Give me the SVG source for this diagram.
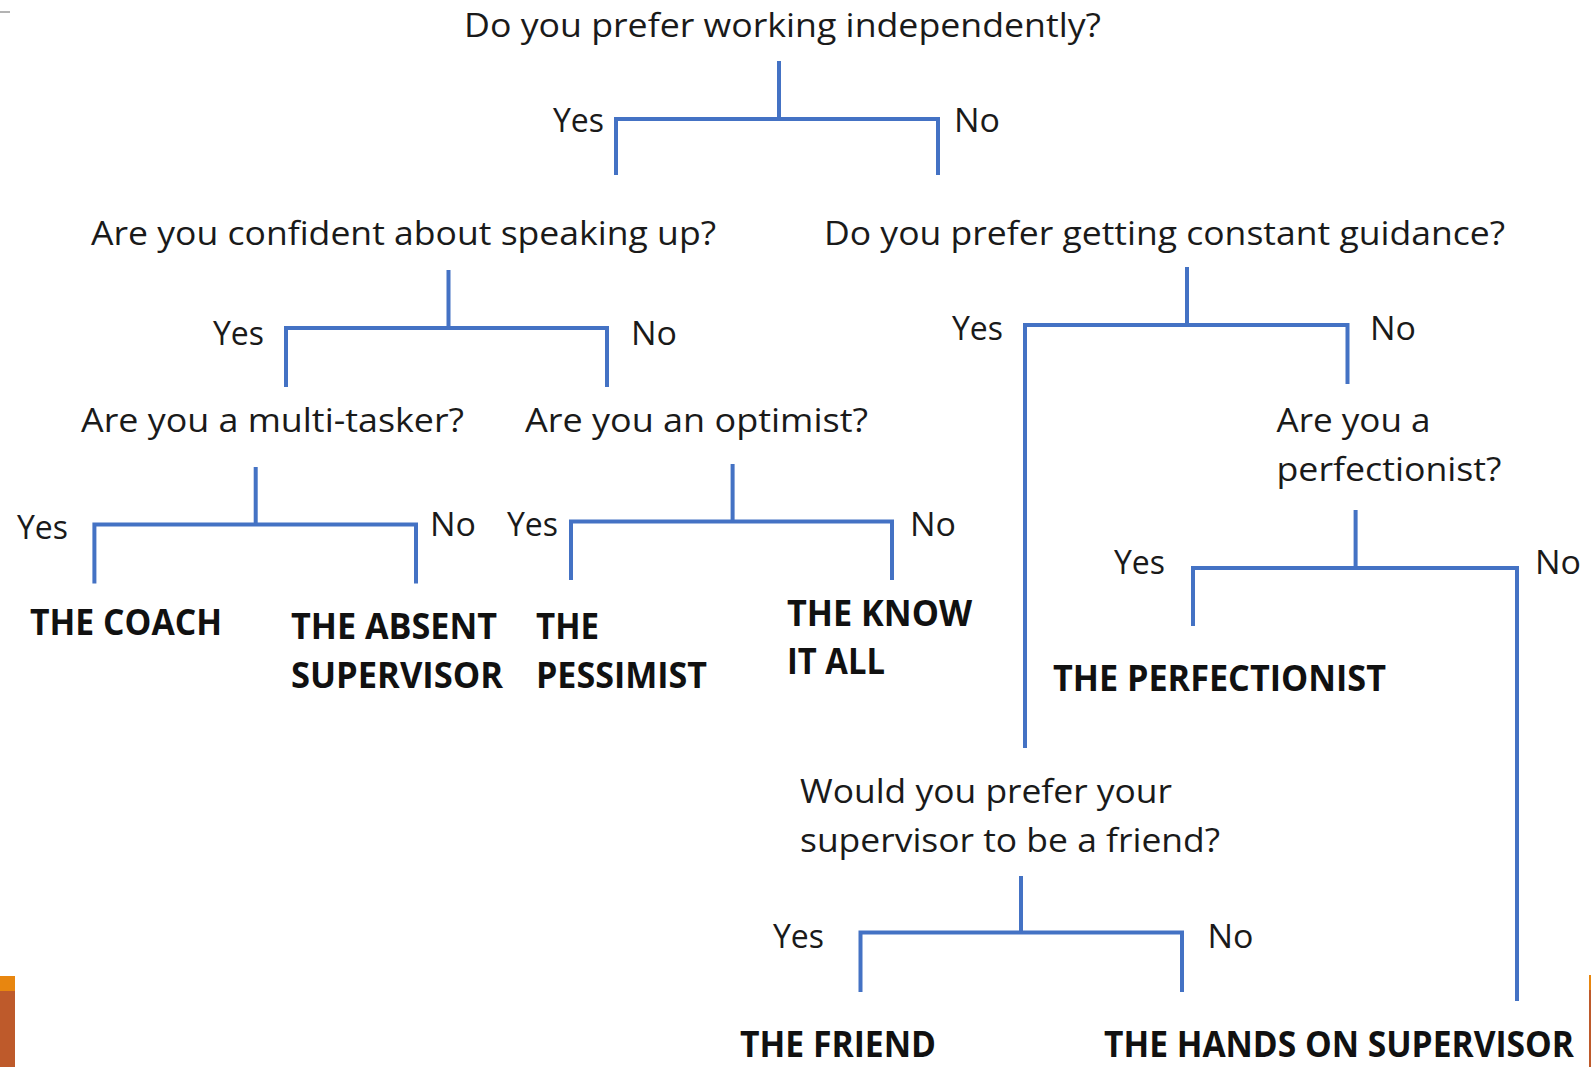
<svg xmlns="http://www.w3.org/2000/svg" width="1591" height="1067" viewBox="0 0 1591 1067">
<style>
  .q { font-family: "Open Sans", "Noto Sans", sans-serif; font-size: 33px; fill: #1a1a1a; }
  .a { font-family: "Open Sans", "Noto Sans", sans-serif; font-size: 35px; font-weight: bold; fill: #111; }
  .lbl { font-family: "Open Sans", "Noto Sans", sans-serif; font-size: 33px; fill: #1a1a1a; }
  .c { fill: none; stroke: #4472C4; stroke-width: 4; stroke-linejoin: miter; stroke-linecap: butt; }
</style>
<rect x="0" y="0" width="1591" height="1067" fill="#ffffff"/>
<line x1="0" y1="12" x2="10" y2="12" stroke="#9a9a9a" stroke-width="1.5"/>
<rect x="0" y="976" width="15" height="15" fill="#E8860F"/>
<rect x="0" y="991" width="15" height="76" fill="#BE5A2B"/>
<rect x="1589" y="975" width="2" height="15" fill="#E8860F"/>
<rect x="1589" y="990" width="2" height="77" fill="#BE5A2B"/>

<g id="connectors">
  <path class="c" d="M779 61 V119 M616 175 V119 H938 V175"/>
  <path class="c" d="M448.5 270 V328 M286 387 V328 H607 V387"/>
  <path class="c" d="M1187 267 V325 M1025 748 V325 H1347.5 V384"/>
  <path class="c" d="M255.7 467 V524.6 M94.4 583.5 V524.6 H416 V583.5"/>
  <path class="c" d="M732.6 464 V521.6 M571 580 V521.6 H892 V580"/>
  <path class="c" d="M1355.6 510 V568 M1193 626 V568 H1517 V1001"/>
  <path class="c" d="M1021 876 V932.5 M860.5 992 V932.5 H1182 V992"/>
  <g id="edge-labels">
    <text class="lbl" x="553" y="132" textLength="51" lengthAdjust="spacingAndGlyphs">Yes</text>
    <text class="lbl" x="954" y="132" textLength="46" lengthAdjust="spacingAndGlyphs">No</text>
    <text class="lbl" x="213" y="345" textLength="51" lengthAdjust="spacingAndGlyphs">Yes</text>
    <text class="lbl" x="631" y="345" textLength="46" lengthAdjust="spacingAndGlyphs">No</text>
    <text class="lbl" x="952" y="340" textLength="51" lengthAdjust="spacingAndGlyphs">Yes</text>
    <text class="lbl" x="1370" y="340" textLength="46" lengthAdjust="spacingAndGlyphs">No</text>
    <text class="lbl" x="17" y="539" textLength="51" lengthAdjust="spacingAndGlyphs">Yes</text>
    <text class="lbl" x="430" y="536" textLength="46" lengthAdjust="spacingAndGlyphs">No</text>
    <text class="lbl" x="507" y="536" textLength="51" lengthAdjust="spacingAndGlyphs">Yes</text>
    <text class="lbl" x="910" y="536" textLength="46" lengthAdjust="spacingAndGlyphs">No</text>
    <text class="lbl" x="1114" y="574" textLength="51" lengthAdjust="spacingAndGlyphs">Yes</text>
    <text class="lbl" x="1535" y="574" textLength="46" lengthAdjust="spacingAndGlyphs">No</text>
    <text class="lbl" x="773" y="948" textLength="51" lengthAdjust="spacingAndGlyphs">Yes</text>
    <text class="lbl" x="1207.5" y="948" textLength="46" lengthAdjust="spacingAndGlyphs">No</text>
  </g>
</g>

<g id="q-independent">
  <text class="q" x="464" y="37" textLength="637" lengthAdjust="spacingAndGlyphs">Do you prefer working independently?</text>
</g>
<g id="q-confident">
  <text class="q" x="91" y="245" textLength="625" lengthAdjust="spacingAndGlyphs">Are you confident about speaking up?</text>
</g>
<g id="q-guidance">
  <text class="q" x="824" y="245" textLength="681" lengthAdjust="spacingAndGlyphs">Do you prefer getting constant guidance?</text>
</g>
<g id="q-multitasker">
  <text class="q" x="81" y="432" textLength="383" lengthAdjust="spacingAndGlyphs">Are you a multi-tasker?</text>
</g>
<g id="q-optimist">
  <text class="q" x="525" y="432" textLength="343" lengthAdjust="spacingAndGlyphs">Are you an optimist?</text>
</g>
<g id="q-perfectionist">
  <text class="q" x="1276.5" y="432" textLength="154" lengthAdjust="spacingAndGlyphs">Are you a</text>
  <text class="q" x="1276.5" y="481" textLength="225" lengthAdjust="spacingAndGlyphs">perfectionist?</text>
</g>
<g id="q-friend">
  <text class="q" x="800" y="803" textLength="372" lengthAdjust="spacingAndGlyphs">Would you prefer your</text>
  <text class="q" x="800" y="852" textLength="420" lengthAdjust="spacingAndGlyphs">supervisor to be a friend?</text>
</g>

<g id="a-coach">
  <text class="a" x="30" y="635" textLength="192" lengthAdjust="spacingAndGlyphs">THE COACH</text>
</g>
<g id="a-absent">
  <text class="a" x="291" y="638.5" textLength="206" lengthAdjust="spacingAndGlyphs">THE ABSENT</text>
  <text class="a" x="291" y="688" textLength="212" lengthAdjust="spacingAndGlyphs">SUPERVISOR</text>
</g>
<g id="a-pessimist">
  <text class="a" x="536" y="638.5" textLength="63" lengthAdjust="spacingAndGlyphs">THE</text>
  <text class="a" x="536" y="688" textLength="171" lengthAdjust="spacingAndGlyphs">PESSIMIST</text>
</g>
<g id="a-knowitall">
  <text class="a" x="787" y="625.5" textLength="185" lengthAdjust="spacingAndGlyphs">THE KNOW</text>
  <text class="a" x="787" y="674" textLength="98" lengthAdjust="spacingAndGlyphs">IT ALL</text>
</g>
<g id="a-perfectionist">
  <text class="a" x="1053" y="690.5" textLength="333" lengthAdjust="spacingAndGlyphs">THE PERFECTIONIST</text>
</g>
<g id="a-friend">
  <text class="a" x="740" y="1057" font-size="34" textLength="196" lengthAdjust="spacingAndGlyphs">THE FRIEND</text>
</g>
<g id="a-handson">
  <text class="a" x="1104" y="1057" font-size="34" textLength="470" lengthAdjust="spacingAndGlyphs">THE HANDS ON SUPERVISOR</text>
</g>
</svg>
